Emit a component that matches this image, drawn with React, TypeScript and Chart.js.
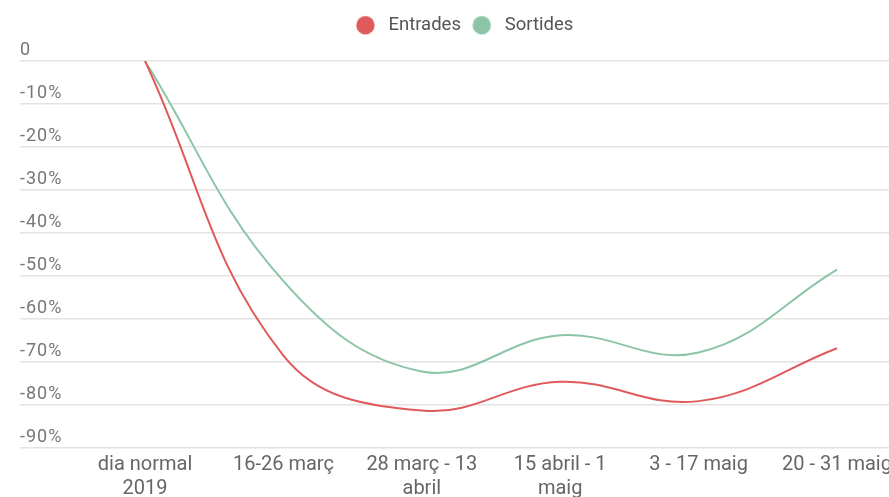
import React, { useEffect, useRef } from "react";
import { Chart, registerables } from "chart.js";

Chart.register(...registerables);

const categories: (string | string[])[] = [
  ["dia normal", "2019"],
  "16-26 març",
  ["28 març - 13", "abril"],
  ["15 abril - 1", "maig"],
  "3 - 17 maig",
  "20 - 31 maig",
];
const entrades = [0, -68.5, -81.3, -74.6, -79.1, -66.8];
const sortides = [0, -51.2, -72.2, -63.8, -67.8, -48.5];
const yTicks = [0, -10, -20, -30, -40, -50, -60, -70, -80, -90];

const RED = "#e05a5c";
const GREEN = "#8cc5a6";

function legendDot(color: string) {
  const c = document.createElement("canvas");
  c.width = 30;
  c.height = 20;
  const ctx = c.getContext("2d")!;
  ctx.fillStyle = color;
  ctx.beginPath();
  ctx.arc(10.5, 10, 9.2, 0, Math.PI * 2);
  ctx.fill();
  return c;
}

const layoutPlugin = {
  id: "layoutTweaks",
  beforeInit(chart: any) {
    const lg = chart.legend;
    if (lg) {
      const fit = lg.fit;
      lg.fit = function () {
        fit.call(this);
        this.height = 61;
      };
    }
  },
  beforeDraw(chart: any) {
    const s = chart.scales.y;
    if (s && !s.__patched) {
      const orig = s.drawLabels.bind(s);
      s.drawLabels = (area: any) => {
        const ctx = chart.ctx;
        ctx.save();
        ctx.letterSpacing = "1px";
        orig(area);
        ctx.restore();
      };
      s.__patched = true;
    }
  },
};

export default function App() {
  const ref = useRef<HTMLCanvasElement | null>(null);
  useEffect(() => {
    if (!ref.current) return;
    const toPts = (arr: number[]) => arr.map((v, i) => ({ x: i, y: v }));
    const chart = new Chart(ref.current, {
      type: "line",
      data: {
        datasets: [
          {
            label: "Entrades",
            data: toPts(entrades),
            borderColor: RED,
            backgroundColor: RED,
            borderWidth: 2,
            pointRadius: 0,
            pointStyle: legendDot(RED) as any,
            tension: 0.4,
          },
          {
            label: "Sortides",
            data: toPts(sortides),
            borderColor: GREEN,
            backgroundColor: GREEN,
            borderWidth: 2,
            pointRadius: 0,
            pointStyle: legendDot(GREEN) as any,
            tension: 0.4,
          },
        ],
      },
      options: {
        animation: false,
        responsive: false,
        layout: { padding: { left: 20, right: 20, top: 0, bottom: 0 } },
        plugins: {
          legend: {
            position: "top",
            labels: {
              usePointStyle: true,
              boxHeight: 13,
              padding: 16,
              color: "#555",
              font: { family: "Roboto", size: 18.5 },
            },
          },
          tooltip: { enabled: false },
        },
        scales: {
          x: {
            type: "linear",
            min: -0.9032,
            max: 5.5563,
            afterBuildTicks: (scale: any) => {
              scale.ticks = categories.map((_, i) => ({ value: i }));
            },
            grid: { display: false, drawTicks: false },
            border: { display: false },
            ticks: {
              padding: 5,
              maxRotation: 0,
              autoSkip: false,
              color: "#666",
              font: { family: "Roboto", size: 20, lineHeight: 1.2 },
              callback: (v: any) => categories[v as number],
            },
          },
          y: {
            min: -90,
            max: 0,
            afterBuildTicks: (scale: any) => {
              scale.ticks = yTicks.map((v) => ({ value: v }));
            },
            grid: { color: "#e3e3e3", lineWidth: 1.5, drawTicks: false },
            border: { display: false },
            ticks: {
              mirror: true,
              padding: 0,
              labelOffset: -11,
              color: "#777",
              font: { family: "Roboto", size: 18 },
              callback: (v: any) => (v === 0 ? "0" : v + "%"),
            },
          },
        },
      },
      plugins: [layoutPlugin],
    });
    return () => chart.destroy();
  }, []);
  return (
    <div
      style={{
        position: "absolute",
        left: 0,
        top: 0,
        width: 889,
        height: 497,
        overflow: "hidden",
        background: "#fff",
      }}
    >
      <canvas ref={ref} width={934} height={506} style={{ display: "block" }} />
    </div>
  );
}
